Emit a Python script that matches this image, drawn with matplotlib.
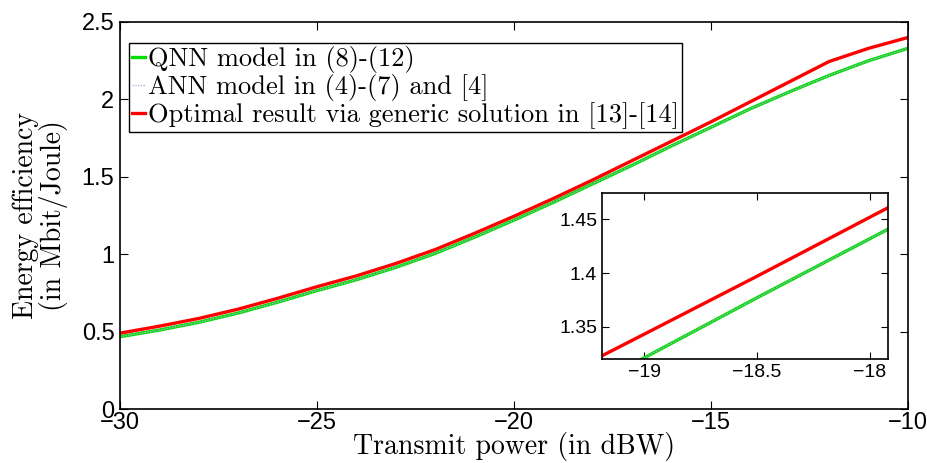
import matplotlib
matplotlib.use("Agg")
import matplotlib.pyplot as plt

# ---- data ----
power_dbw = [-30, -29, -28, -27, -26, -25, -24, -23, -22, -21,
             -20, -19, -18, -17, -16, -15, -14, -13, -12, -11, -10]
ee_qnn = [0.467, 0.51, 0.56, 0.62, 0.69, 0.765, 0.835, 0.915, 1.005, 1.11,
          1.22, 1.335, 1.455, 1.575, 1.70, 1.82, 1.94, 2.05, 2.155, 2.25, 2.33]
ee_ann = ee_qnn
ee_opt = [0.49, 0.535, 0.585, 0.645, 0.715, 0.79, 0.86, 0.94, 1.03, 1.135,
          1.245, 1.36, 1.48, 1.605, 1.73, 1.855, 1.985, 2.115, 2.245, 2.33, 2.40]

# zoomed region shown in the inset
zoom_dbw = [-19.2, -19.0, -18.5, -18.0, -17.9]
zoom_qnn = [1.300, 1.321, 1.377, 1.432, 1.443]
zoom_ann = zoom_qnn
zoom_opt = [1.3215, 1.343, 1.397, 1.452, 1.463]

legend_labels = ["QNN model in (8)-(12)",
                 "ANN model in (4)-(7) and [4]",
                 "Optimal result via generic solution in [13]-[14]"]

tick_font = "Liberation Sans"
text_font = "cmr10"

plt.rcParams["axes.unicode_minus"] = True
plt.rcParams["font.family"] = [tick_font, "DejaVu Sans"]

GREEN = "#00dd00"
ANN = "#a9b3dd"
RED = "#ff0000"

fig = plt.figure(figsize=(9.28, 4.63), dpi=100)
ax = fig.add_axes([120 / 928, 1 - 409 / 463, 788 / 928, (409 - 22) / 463])

l1, = ax.plot(power_dbw, ee_qnn, color=GREEN, lw=2.4)
l2, = ax.plot(power_dbw, ee_ann, color=ANN, lw=1.0, ls=(0, (1, 1)))
l3, = ax.plot(power_dbw, ee_opt, color=RED, lw=2.4)

ax.set_xlim(-30, -10)
ax.set_ylim(0, 2.5)
ax.set_xticks([-30, -25, -20, -15, -10])
ax.set_yticks([0, 0.5, 1, 1.5, 2, 2.5])
ax.set_yticklabels(["0", "0.5", "1", "1.5", "2", "2.5"])
ax.tick_params(direction="in", top=True, right=True, labelsize=17, length=6, pad=4)
ax.tick_params(axis="x", pad=2)
for s in ax.spines.values():
    s.set_linewidth(1.2)

ax.set_xlabel("Transmit power (in dBW)", family=text_font, fontsize=20, labelpad=-1)
ax.set_ylabel("Energy efficiency\n(in Mbit/Joule)", family=text_font, fontsize=20,
              labelpad=10, linespacing=1.0)

leg = ax.legend([l1, l2, l3], legend_labels, loc="upper left",
                bbox_to_anchor=(0.012, 0.945), prop={"family": text_font, "size": 19},
                handlelength=0.5, handletextpad=0.1, borderpad=0.1,
                labelspacing=0.05, borderaxespad=0, fancybox=False, framealpha=1)
leg.get_frame().set_edgecolor("black")
leg.get_frame().set_linewidth(1.0)

# inset
axi = fig.add_axes([602 / 928, 1 - 359 / 463, 286 / 928, 166 / 463])
axi.plot(zoom_dbw, zoom_qnn, color=GREEN, lw=2.4)
axi.plot(zoom_dbw, zoom_ann, color=ANN, lw=1.0, ls=(0, (1, 1)))
axi.plot(zoom_dbw, zoom_opt, color=RED, lw=2.4)
axi.set_xlim(-19.186, -17.92)
axi.set_ylim(1.320, 1.4745)
axi.set_xticks([-19, -18.5, -18])
axi.set_xticklabels(["\u221219", "\u221218.5", "\u221218"])
axi.set_yticks([1.35, 1.4, 1.45])
axi.set_yticklabels(["1.35", "1.4", "1.45"])
axi.tick_params(direction="in", top=True, right=True, labelsize=14, length=5)
for s in axi.spines.values():
    s.set_linewidth(1.2)

fig.savefig("out.png", dpi=100)
